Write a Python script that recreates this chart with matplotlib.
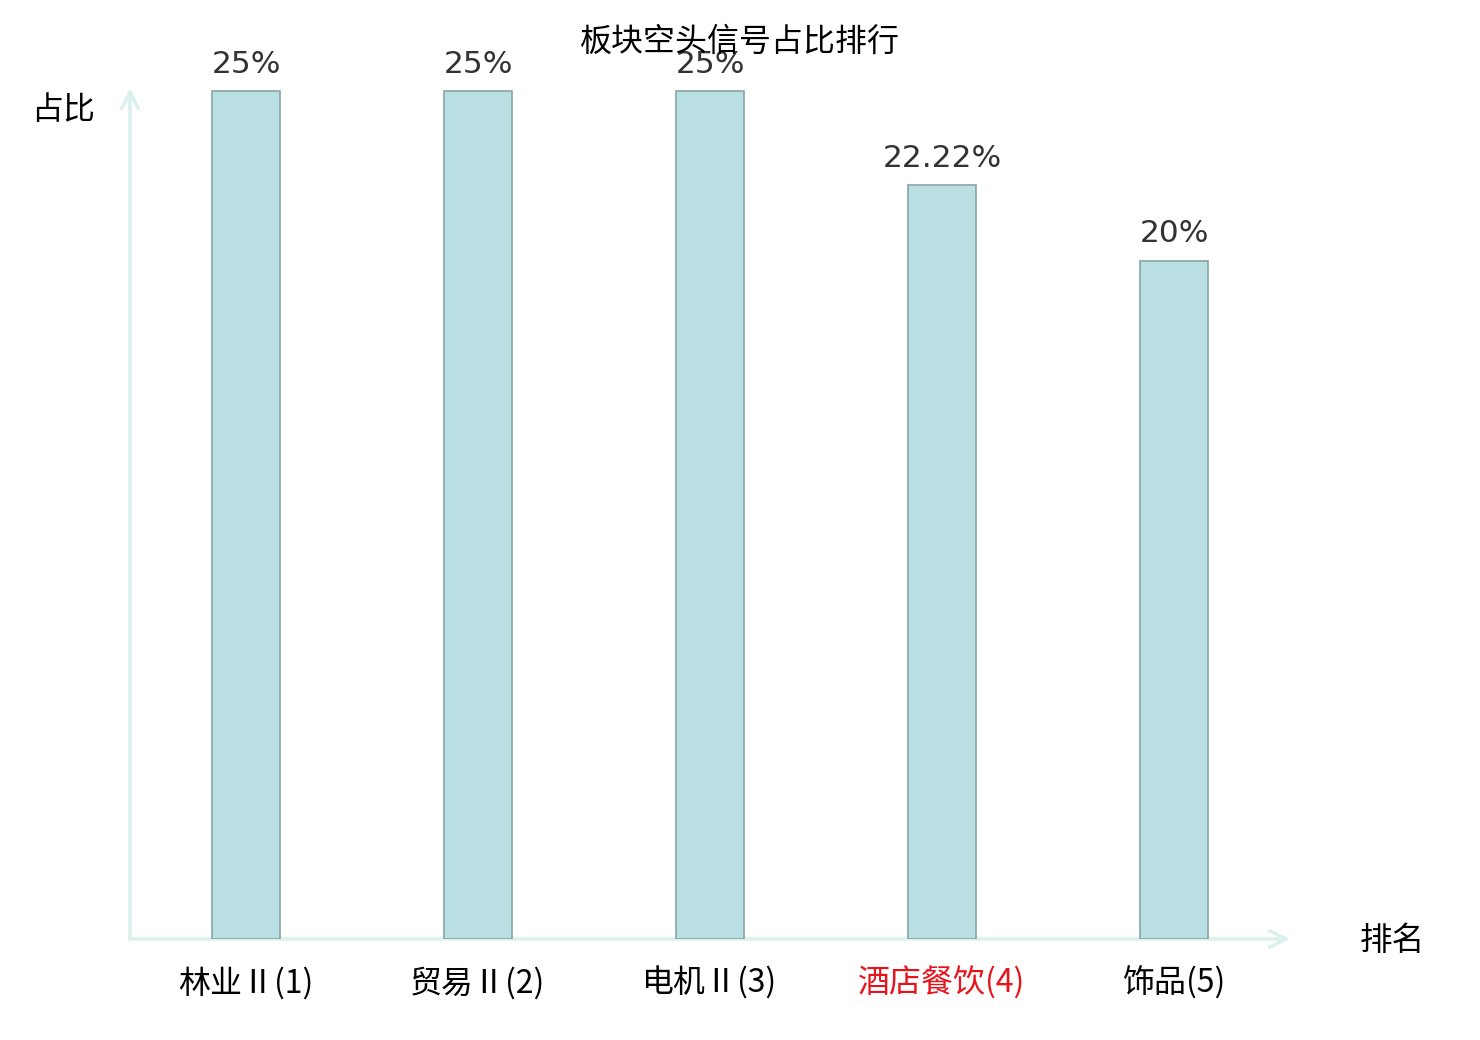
import numpy as np
import matplotlib
matplotlib.use('Agg')
import matplotlib.pyplot as plt

plt.rcParams['font.family'] = ['Noto Sans CJK SC', 'DejaVu Sans']

categories = ['林业Ⅱ(1)', '贸易Ⅱ(2)', '电机Ⅱ(3)', '酒店餐饮(4)', '饰品(5)']
values = [25, 25, 25, 22.22, 20]
value_labels = ['25%', '25%', '25%', '22.22%', '20%']
label_colors = ['black', 'black', 'black', '#e8141b', 'black']

fig = plt.figure(figsize=(14.8, 10.4), dpi=100)
ax = fig.add_axes([130/1480, 101/1040, 1160/1480, 851/1040])

x = np.arange(len(categories))
ax.bar(x, values, width=0.29, color='#bbe0e3', edgecolor='#88a4a6', linewidth=1.2, zorder=2)

for xi, v, lab in zip(x, values, value_labels):
    ax.annotate(lab, (xi, v), xytext=(0, 9), textcoords='offset points',
                ha='center', va='bottom', fontsize=22.5, color='#333333',
                family='DejaVu Sans')

ax.set_xlim(-0.5, 4.5)
ax.set_ylim(0, 25 * 851 / 848)
for s in ax.spines.values():
    s.set_visible(False)
ax.set_yticks([])
ax.set_xticks(x)
ax.set_xticklabels(categories, fontsize=23)
for t, c in zip(ax.get_xticklabels(), label_colors):
    t.set_color(c)
ax.tick_params(axis='x', length=0, pad=20)

axis_col = '#dcf1ee'
ax.annotate('', xy=(1.0, 0), xytext=(0, 0), xycoords='axes fraction',
            arrowprops=dict(arrowstyle='->', color=axis_col, lw=2.5,
                            mutation_scale=30, shrinkA=0, shrinkB=0), zorder=1)
ax.annotate('', xy=(0, 1.0), xytext=(0, 0), xycoords='axes fraction',
            arrowprops=dict(arrowstyle='->', color=axis_col, lw=2.5,
                            mutation_scale=30, shrinkA=0, shrinkB=0), zorder=1)

fig.text(1392/1480, 1 - 941/1040, '排名', ha='center', va='center', fontsize=23.5)
fig.text(63/1480, 1 - 110/1040, '占比', ha='center', va='center', fontsize=23)
fig.text(0.5, 1 - 42/1040, '板块空头信号占比排行', ha='center', va='center', fontsize=23)

fig.savefig('out.png', dpi=100)
